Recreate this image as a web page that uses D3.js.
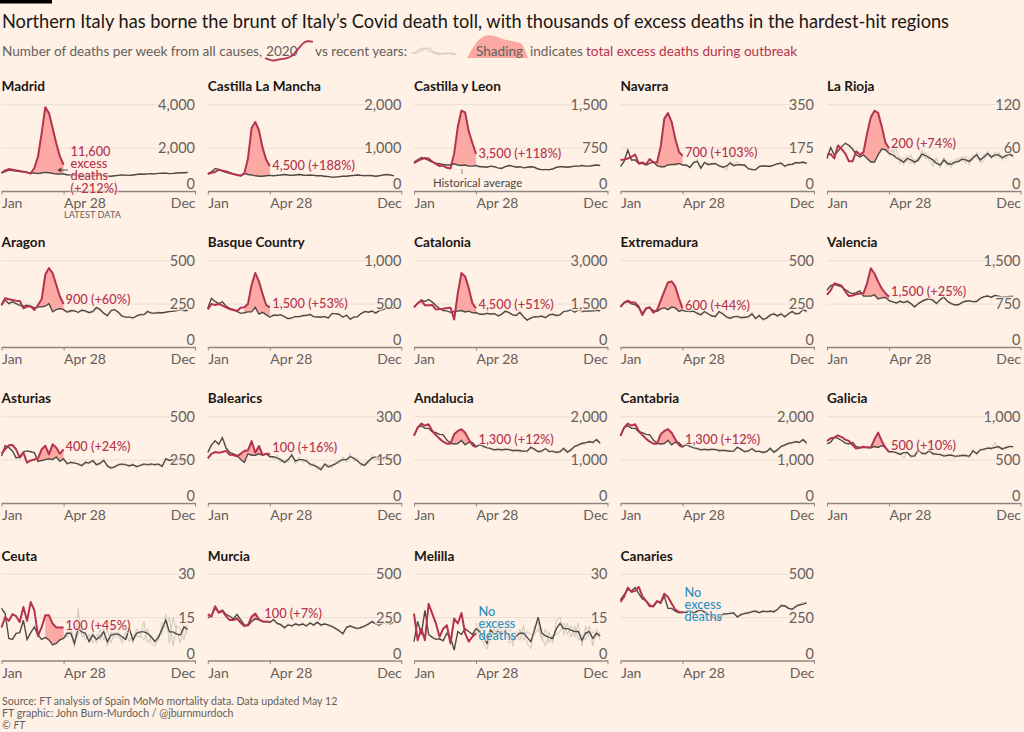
<!DOCTYPE html>
<html>
<head>
<meta charset="utf-8">
<script src="https://cdn.jsdelivr.net/npm/d3@7"></script>
<style>
	body{margin:0;background:#fff1e5;}
	text{font-family:Lato,sans-serif;}
</style>
</head>
<body>
<svg id="chart" width="1024" height="732"></svg>
<script>
var regions=['Madrid','Castilla La Mancha','Castilla y Leon','Navarra','La Rioja','Aragon','Basque Country','Catalonia','Extremadura','Valencia','Asturias','Balearics','Andalucia','Cantabria','Galicia','Ceuta','Murcia','Melilla','Canaries'];
var maxes=[4000,2000,1500,350,120,500,1000,3000,500,1500,500,300,2000,2000,1000,30,500,30,500];
var notes=[['11,600','excess','deaths','(+212%)'],['4,500 (+188%)'],['3,500 (+118%)'],['700 (+103%)'],['200 (+74%)'],['900 (+60%)'],['1,500 (+53%)'],['4,500 (+51%)'],['600 (+44%)'],['1,500 (+25%)'],['400 (+24%)'],['100 (+16%)'],['1,300 (+12%)'],['1,300 (+12%)'],['500 (+10%)'],['100 (+45%)'],['100 (+7%)'],['No','excess','deaths'],['No','excess','deaths']];
var shadeFrom=[9,10,10,10,9,10,10,11,10,10,9,8,10,10,11,12,10,null,null];

// 2020, weeks 1-18
var red=[
[830,950,1010,980,950,920,890,860,800,1060,1590,2670,3860,3590,2900,2200,1590,1210],
[390,420,440,490,470,450,420,390,370,350,400,750,1450,1590,1400,1000,720,570],
[480,520,550,570,560,510,470,430,440,400,390,650,1110,1390,1360,1030,830,640],
[125,127,131,138,147,111,115,107,129,115,115,178,292,314,279,212,158,142],
[50,51,45,63,58,52,41,41,55,50,54,80,102,111,108,89,67,59],
[242,281,275,271,267,265,223,233,233,213,242,275,417,455,426,359,291,248],
[434,496,484,496,477,457,438,426,415,453,457,496,717,853,756,612,484,457],
[1370,1510,1600,1440,1440,1450,1300,1310,1325,1350,1360,950,1860,2560,2440,2035,1510,1340],
[233,256,267,256,256,233,184,223,229,198,213,267,320,372,378,349,281,223],
[900,980,1100,1080,1060,960,880,890,910,925,930,1105,1360,1270,1130,1010,930,870],
[284,309,332,334,309,261,290,232,245,251,257,309,330,280,338,319,284,309],
[154,170,176,174,176,180,167,166,161,170,180,182,214,174,197,166,170,170],
[1545,1737,1830,1784,1815,1660,1567,1483,1413,1367,1367,1583,1660,1699,1621,1467,1336,1290],
[1545,1737,1830,1784,1815,1660,1567,1483,1413,1367,1367,1583,1660,1699,1621,1467,1336,1290],
[714,745,753,780,760,730,714,668,629,637,649,641,637,734,811,714,637,587],
[11.4,15,13.7,16,15.3,13.3,18.5,13.7,20.2,17.3,8.5,11.5,15.6,15.6,12.8,11.4,11.4,11.4],
[267,252,313,275,286,256,233,233,242,218,198,204,252,271,237,225,223,223],
[16.2,7,11,7,19.6,16.2,12.8,8.2,11,12.2,5.9,14.5,12.8,16.4,9.4,6.5,8.2,9.4],
[338,368,420,395,401,424,370,343,313,313,342,334,385,366,328,294,280,275]
];

// historical average, 52 weeks
var hist=[
[820,900,960,940,920,900,880,850,840,830,800,830,860,840,810,780,780,780,750,740,730,720,700,690,680,700,720,720,710,690,680,700,720,740,730,720,740,760,780,770,790,800,790,810,820,820,800,810,830,840,840,850],
[400,440,520,500,460,430,410,390,370,360,410,380,370,350,340,340,350,360,350,360,370,380,370,360,370,380,370,360,370,360,350,350,340,330,320,320,330,340,340,350,360,370,360,350,360,350,340,350,370,380,370,350],
[500,540,580,560,530,500,480,470,460,450,450,470,450,440,450,430,430,440,420,420,410,430,420,400,390,420,440,430,410,420,400,410,420,410,380,370,370,370,380,410,420,420,410,420,430,430,440,430,430,440,450,440],
[98,120,165,125,125,111,111,105,111,118,102,98,98,105,107,107,111,105,105,95,115,120,92,115,106,110,110,102,96,100,112,102,106,106,104,90,86,86,98,102,100,100,104,110,112,100,106,108,114,114,116,112],
[45,60,50,55,61,66,63,58,50,47,50,45,40,40,50,58,57,52,50,46,43,40,45,43,40,43,51,49,46,43,38,36,43,38,37,40,41,44,43,41,46,50,43,47,52,47,50,50,46,49,51,48],
[240,272,250,260,250,240,235,240,235,225,230,232,235,250,203,215,222,215,200,210,208,200,212,208,198,205,228,215,195,180,210,215,200,178,172,172,168,178,188,185,205,195,195,197,197,200,205,205,210,215,210,210],
[450,560,525,500,520,470,445,430,410,388,395,405,405,457,380,400,370,345,365,365,370,350,325,335,350,350,360,365,375,350,345,345,350,335,385,385,375,345,365,320,345,350,385,410,400,415,390,420,430,450,445,445],
[1380,1500,1630,1570,1640,1550,1430,1330,1260,1250,1200,1220,1240,1260,1210,1240,1180,1190,1130,1130,1160,1140,1150,1080,1130,1240,1190,1110,1090,1200,1040,930,1000,1050,1040,1070,1010,1110,1130,1090,1110,1230,1240,1290,1200,1280,1220,1250,1240,1250,1270,1250],
[230,255,262,248,245,225,195,220,225,210,205,220,225,215,230,225,205,212,205,205,205,195,185,205,190,180,175,205,190,175,165,175,175,170,170,175,190,165,180,160,165,185,190,180,190,175,190,205,190,195,215,205],
[980,1060,1080,1060,1040,990,950,920,940,970,880,880,880,900,830,850,860,800,780,760,790,770,790,750,690,750,790,820,830,810,750,820,860,790,750,730,730,770,790,800,780,790,840,870,880,860,890,880,860,870,870,880],
[270,330,320,300,260,265,295,300,295,290,240,245,250,255,250,265,240,255,225,235,230,225,215,235,230,245,220,230,245,215,200,210,220,225,220,215,220,210,215,225,220,225,220,225,210,255,245,250,255,250,245,250],
[175,200,215,203,226,190,175,170,165,150,140,170,165,165,170,165,170,160,160,155,150,140,150,165,145,150,150,145,135,130,125,115,135,125,130,135,145,150,150,160,155,145,135,130,145,155,160,150,155,160,150,155],
[1560,1740,1780,1720,1720,1640,1620,1580,1570,1450,1380,1360,1370,1440,1340,1400,1390,1300,1340,1310,1270,1260,1220,1240,1220,1240,1230,1210,1210,1210,1190,1200,1280,1240,1180,1200,1250,1190,1190,1170,1180,1260,1170,1230,1300,1340,1370,1390,1410,1400,1460,1380],
[1560,1740,1780,1720,1720,1640,1620,1580,1570,1450,1380,1360,1370,1440,1340,1400,1390,1300,1340,1310,1270,1260,1220,1240,1220,1240,1230,1210,1210,1210,1190,1200,1280,1240,1180,1200,1250,1190,1190,1170,1180,1260,1170,1230,1300,1340,1370,1390,1410,1400,1460,1380],
[680,700,760,745,720,690,680,700,650,640,640,640,640,650,640,660,640,590,590,580,560,580,580,540,540,610,570,570,600,570,560,560,540,550,550,540,540,550,545,540,600,570,610,620,630,630,640,650,620,640,650,650],
[18,16.2,7.6,7.3,9.4,9.6,13.9,7.3,9.6,11.6,8.8,7.3,8,7.1,5.4,5.9,7.1,7.6,9.4,9.4,5.9,11,9.9,9.4,6.5,8.8,7.3,8.2,9.9,6.5,8.8,9.1,9.1,8.2,7.3,11,7.1,9.4,9.9,9.9,9.4,8.2,6.5,8,11,13.9,9.9,9.9,9.1,8.8,11.6,10.7],
[245,260,300,280,290,265,255,240,265,235,205,200,225,240,235,225,225,220,235,215,205,190,205,200,210,205,210,200,215,205,220,205,210,205,195,185,170,155,190,200,190,185,190,200,210,225,210,205,215,220,210,225],
[6.5,13.5,9,17.3,9,8,7.3,7.5,6.8,9.4,8,3.6,10,9,11,10,9,11,10,8,5.9,10.5,9,10,9,10,9,7,8.5,9.4,9.4,8,6.5,10.5,15,9.5,8.5,8,7.6,11,12.8,11,11,10.5,10,10,7,9.5,10,7.6,9.4,8.5],
[350,380,410,400,420,385,355,345,320,310,340,330,370,300,300,285,275,280,275,290,270,285,290,280,265,255,240,240,265,270,270,275,250,265,270,275,280,285,275,285,280,285,280,295,315,315,300,295,310,320,325,332]
];

// earlier years, thin grey lines
var grey=[
[800,920,980,930,900,890,870,840,850,810,790,820,840,850,800,770,790,770,740,750,720,730,690,700,670,710,710,730,700,700,670,710,710,750,720,730,730,770,770,780,780,810,780,820,810,830,790,820,820,850,830,860],
[420,450,500,510,450,440,400,400,360,370,400,390,360,360,330,350,340,370,340,370,360,390,360,370,360,390,360,370,360,370,340,360,330,340,310,330,320,350,330,360,350,380,350,360,350,360,330,360,360,390,360,360],
[490,550,590,550,540,490,490,460,470,440,460,460,460,430,460,420,440,430,430,410,420,420,430,390,400,410,450,420,420,410,410,400,430,400,390,360,380,360,390,400,430,410,420,410,440,420,450,420,440,430,460,430],
[105,110,150,130,118,115,105,110,105,122,98,102,94,108,102,112,106,110,100,100,108,128,88,110,112,104,116,96,102,84,120,108,118,100,110,86,90,82,102,98,104,96,108,106,116,96,110,104,118,110,120,108],
[48,55,54,50,64,60,66,52,54,42,54,42,44,36,54,62,52,56,54,58,38,46,40,50,36,48,46,54,42,34,44,32,47,34,42,36,46,40,48,36,50,46,40,51,48,50,46,54,42,52,48,52],
[250,260,260,250,255,235,245,230,240,220,235,228,240,240,210,210,228,205,210,200,216,192,218,200,205,198,220,222,188,188,204,222,192,186,166,180,160,186,180,192,198,202,190,204,192,206,198,212,205,222,204,216],
[470,530,540,480,530,460,455,420,420,380,405,395,415,440,390,390,380,335,375,355,380,340,335,325,360,340,370,355,385,340,355,335,360,325,395,375,385,335,375,310,355,340,395,400,410,405,400,410,440,440,455,435],
[1420,1460,1660,1530,1680,1510,1460,1300,1290,1220,1230,1190,1270,1230,1240,1210,1210,1160,1160,1100,1190,1110,1180,1050,1160,1210,1220,1080,1120,1170,1070,900,1030,1020,1070,1040,1040,1080,1160,1060,1140,1200,1270,1260,1230,1250,1250,1220,1270,1220,1300,1220],
[240,245,272,238,255,215,205,210,235,200,215,210,235,205,240,215,215,202,215,195,215,185,195,195,200,170,185,195,200,165,175,165,185,160,180,165,200,155,190,150,175,175,200,170,200,165,200,195,200,185,225,195],
[1000,1040,1100,1040,1060,970,970,900,960,950,900,860,900,880,850,830,880,780,800,740,810,750,810,730,710,730,810,800,850,790,770,800,880,770,770,710,750,750,810,780,800,770,860,850,900,840,910,860,880,850,890,860],
[280,320,330,290,270,255,305,290,305,280,250,235,260,245,260,255,250,245,235,225,240,215,225,225,240,235,230,220,255,205,210,200,230,215,230,205,230,200,225,215,230,215,230,215,220,245,255,240,265,240,255,240],
[185,190,225,195,215,200,165,180,155,160,130,180,155,175,160,175,160,170,150,165,140,150,140,175,135,160,140,155,125,140,115,125,125,135,120,145,135,160,140,170,145,155,125,140,135,165,150,160,145,170,140,165],
[1590,1700,1810,1680,1750,1600,1650,1540,1600,1410,1410,1320,1400,1400,1370,1360,1420,1260,1370,1270,1300,1220,1250,1200,1250,1200,1260,1170,1240,1170,1220,1160,1310,1200,1210,1160,1280,1150,1220,1130,1210,1220,1200,1190,1330,1300,1400,1350,1440,1360,1490,1340],
[1590,1700,1810,1680,1750,1600,1650,1540,1600,1410,1410,1320,1400,1400,1370,1360,1420,1260,1370,1270,1300,1220,1250,1200,1250,1200,1260,1170,1240,1170,1220,1160,1310,1200,1210,1160,1280,1150,1220,1130,1210,1220,1200,1190,1330,1300,1400,1350,1440,1360,1490,1340],
[700,680,780,725,740,670,700,680,670,620,660,620,660,630,660,640,660,570,610,560,580,510,600,520,560,590,590,550,620,550,580,540,560,530,570,520,560,530,565,520,620,550,630,600,650,610,700,630,640,620,670,630],
[16,12,9,8,11,8,15,9,11,10,10,6,10,6,7,7,9,8,10,9,4.5,17.9,8,9,7,10,6,11,7,11,6,10,8,7,10,6.5,9,8.5,8,13.5,6,8,7,9,9,16,6,15,10,6,12,9],
[255,250,310,270,300,255,265,230,275,225,215,190,235,230,245,215,235,210,245,205,215,180,215,190,220,195,220,190,225,195,230,195,220,195,205,175,180,145,200,190,200,175,200,190,220,215,220,195,225,210,220,215],
[8,11,11,15,7,10,6,9,5,11,6,5,8,11,9,12,7,13,8,6,4,8,11,8,11,8,14,5,10,7,12,6,4,12,13,8,5,10,6,14,15,9,13,8,12,7,9,7,12,5,11,7],
[360,370,420,390,430,375,365,335,330,300,350,320,380,290,310,275,285,270,285,280,280,275,300,270,275,245,250,230,275,260,280,265,260,255,280,265,290,275,285,275,290,275,290,285,325,310,310,285,320,325,335,330]
];

// noisy small regions have a second thin line: La Rioja, Ceuta, Melilla
var greyExtra={
	4:[42,62,46,60,56,70,58,60,46,52,46,48,36,44,46,54,60,48,60,44,48,36,50,38,44,40,56,44,50,38,46,34,40,42,32,44,38,48,38,46,42,54,38,42,56,44,54,46,50,44,54,46],
	15:[20,14,6,9,8,11,12,6,8,13,7,9,6,8,4,7,6,9,8,11,7,9,11,7,9,6,9,7,11,5,10,8,10,6,8,12,6,11,9,7,11,6,5,7,13,11,15,5,12,11,7,14],
	17:[5,15,7,14,11,6,9,6,8,8,10,2,12,7,13,8,11,9,12,10,7,12,7,12,7,12,6,9,7,11,7,10,9,9,11,7,11,6,9,9,10,13,9,12,8,13,5,12,8,10,8,10]
};

var legendRedLine=[2,1,0,1,1.5,2,3,6,10,13.5,14,13.5];
var legendGreyA=[3,5,7,9,6,4,3,2,4,3,4,2];
var legendGreyB=[4,3,5,7,9,6,3,4,2,4,2,3];
var legendShade=[0,10,18,22,23,22,20,18,17,16,15.5,0];

// layout
var W=1024,H=732;
var colLeft=[1.5,207.8,414,620.5,827];
var rowBase=[191,347,503,660.5];
var pw=193.5,ph=86.8;
var greyStart=17;
var noteLeft=[69,64.5,64.5,64.5,64,64,64.5,64.5,64.5,64,64,64.5,64.5,64.5,64,64,56.5,64.5,64];
var noteTop=[151,165,153,152,143,299,303,304,305,291,446,447,439,439,445,625,613,611,592];
var paper='#fff1e5',ink='#66605c',redCol='#b5334e',blueCol='#2e8fc0',shadeCol='#fba9a2',greyCol='#d0c8be';

var svg=d3.select('#chart');
svg.append('rect').attr('width',W).attr('height',H).attr('fill',paper);
svg.append('rect').attr('width',52).attr('height',3.5).attr('fill','#000');

svg.append('text').attr('x',2).attr('y',28).attr('font-size',19.8).attr('fill','#1a1715')
	.attr('textLength',947).attr('lengthAdjust','spacingAndGlyphs')
	.text('Northern Italy has borne the brunt of Italy\u2019s Covid death toll, with thousands of excess deaths in the hardest-hit regions');

//legend row
var legX=d3.scaleLinear().domain([0,11]);
var legShadeX=d3.scaleLinear().domain([0,11]).range([467,528]);
var legShadeY=d3.scaleLinear().domain([0,23]).range([58,35]);
var legShade=d3.area().x(function(d,i){return legShadeX(i);})
	.y0(legShadeY(0))
	.y1(function(d){return legShadeY(d);})
	.curve(d3.curveBasis);
svg.append('path').attr('d',legShade(legendShade)).attr('fill',shadeCol);

function legText(x,s,col){
	svg.append('text').attr('x',x).attr('y',56).attr('font-size',13.6).attr('fill',col).text(s);
}
legText(2,'Number of deaths per week from all causes,',ink);
legText(266,'2020',ink);
legText(315,'vs recent years:',ink);
legText(476,'Shading',ink);
legText(530,'indicates',ink);
legText(586,'total excess deaths during outbreak',redCol);

var legRedY=d3.scaleLinear().domain([0,14]).range([61,41]);
legX.range([265,313]);
svg.append('path').attr('fill','none').attr('stroke',redCol).attr('stroke-width',1.8)
	.attr('d',d3.line().x(function(d,i){return legX(i);}).y(legRedY).curve(d3.curveBasis)(legendRedLine));
var legGreyX=d3.scaleLinear().domain([0,11]).range([412,456]);
var legGreyY=d3.scaleLinear().domain([0,10]).range([57,46]);
[legendGreyA,legendGreyB].forEach(function(g){
	svg.append('path').attr('fill','none').attr('stroke',greyCol).attr('stroke-width',1)
		.attr('d',d3.line().x(function(d,i){return legGreyX(i);}).y(legGreyY).curve(d3.curveBasis)(g));
});

var x=d3.scaleLinear().domain([0,53]).range([0,pw]);
var xTicks=[0,17,53],xNames=['Jan','Apr 28','Dec'];

regions.forEach(function(name,n){
	var col=n%5,row=Math.floor(n/5);
	var g=svg.append('g').attr('transform','translate('+colLeft[col]+','+(rowBase[row]-ph)+')');
	var y=d3.scaleLinear().domain([0,maxes[n]]).range([ph,0]);
	var yTicks=[0,maxes[n]/2,maxes[n]];

	g.append('text').attr('x',0).attr('y',-13).attr('font-size',13.6).attr('font-weight',700).attr('fill','#1a1715').text(name);

	//gridlines under everything
	var grid=g.append('g').attr('transform','translate('+pw+',0)')
		.call(d3.axisRight(y).tickValues(yTicks.slice(1)).tickSize(-pw).tickFormat(''));
	grid.select('.domain').remove();
	grid.selectAll('line').attr('stroke','#e9dfd4').attr('stroke-width',1);

	var line=d3.line().x(function(d,i){return x(i);}).y(function(d){return y(d);});
	var lateLine=d3.line().defined(function(d,i){return i>=greyStart;}).x(function(d,i){return x(i);}).y(function(d){return y(d);});

	if(shadeFrom[n]!==null){
		var area=d3.area()
			.defined(function(d,i){return i>=shadeFrom[n];})
			.x(function(d,i){return x(i);})
			.y0(function(d,i){return y(hist[n][i]);})
			.y1(function(d,i){return y(Math.max(d,hist[n][i]));});
		g.append('path').attr('d',area(red[n])).attr('fill',shadeCol);
	}

	g.append('path').attr('d',lateLine(grey[n])).attr('fill','none').attr('stroke',greyCol).attr('stroke-width',1);
	if(greyExtra[n]){
		g.append('path').attr('d',lateLine(greyExtra[n])).attr('fill','none').attr('stroke',greyCol).attr('stroke-width',1);
	}
	g.append('path').attr('d',line(hist[n])).attr('fill','none').attr('stroke','#4f4946').attr('stroke-width',1.4);
	g.append('path').attr('d',line(red[n])).attr('fill','none').attr('stroke',redCol).attr('stroke-width',2).attr('stroke-linejoin','round');

	//x axis
	var xa=g.append('g').attr('transform','translate(0,'+ph+')')
		.call(d3.axisBottom(x).tickValues(xTicks).tickSize(3.5).tickSizeOuter(0).tickFormat(function(d,i){return xNames[i];}));
	xa.select('.domain').attr('stroke','#8e8680').attr('stroke-width',1.3);
	xa.selectAll('line').attr('stroke','#8e8680');
	xa.selectAll('text').attr('font-family','Lato,sans-serif').attr('font-size',14).attr('fill',ink).attr('y',6).attr('dy','0.8em')
		.attr('text-anchor',function(d,i){return i==2?'end':'start';});

	//y labels sit on top with a soft halo
	var ya=g.append('g').attr('transform','translate('+pw+',0)')
		.call(d3.axisRight(y).tickValues(yTicks).tickSize(0).tickPadding(0).tickFormat(d3.format(',')));
	ya.select('.domain').remove();
	ya.selectAll('text').attr('font-family','Lato,sans-serif').attr('font-size',14.5).attr('fill',ink)
		.attr('text-anchor','end').attr('x',0)
		.attr('dy',function(d){return d==0?'-0.16em':'0.34em';})
		.attr('stroke',paper).attr('stroke-opacity',0.75).attr('stroke-width',3).attr('paint-order','stroke');

	//annotation
	var isNone=shadeFrom[n]===null;
	notes[n].forEach(function(s,k){
		svg.append('text').attr('x',colLeft[col]+noteLeft[n]).attr('y',noteTop[n]+k*12.4+4.5)
			.attr('font-size',12.8).attr('font-weight',500).attr('fill',isNone?blueCol:redCol)
			.attr('stroke',paper).attr('stroke-opacity',0.6).attr('stroke-width',2.5).attr('paint-order','stroke')
			.text(s);
	});
});

//small extras on first row
svg.append('text').attr('x',64).attr('y',218).attr('font-size',9.2).attr('fill',ink).text('LATEST DATA');
svg.append('line').attr('x1',60).attr('x2',68).attr('y1',170).attr('y2',170).attr('stroke','#4a4644').attr('stroke-width',1);
svg.append('path').attr('d',d3.symbol().type(d3.symbolTriangle).size(10)()).attr('transform','translate(60,170) rotate(-90)').attr('fill','#4a4644');
svg.append('text').attr('x',433).attr('y',187).attr('font-size',11.4).attr('fill','#4a4644').text('Historical average');
svg.append('line').attr('x1',462).attr('x2',462).attr('y1',169).attr('y2',174).attr('stroke','#8e8680').attr('stroke-width',1);

var sourceLines=['Source: FT analysis of Spain MoMo mortality data. Data updated May 12','FT graphic: John Burn-Murdoch / @jburnmurdoch'];
sourceLines.forEach(function(s,i){
	svg.append('text').attr('x',2).attr('y',705+i*12).attr('font-size',10.6).attr('fill',ink).text(s);
});
var copy=svg.append('text').attr('x',2).attr('y',729).attr('font-size',10.6).attr('fill',ink);
copy.append('tspan').text('\u00a9 ');
copy.append('tspan').attr('font-style','italic').text('FT');
</script>
</body>
</html>
